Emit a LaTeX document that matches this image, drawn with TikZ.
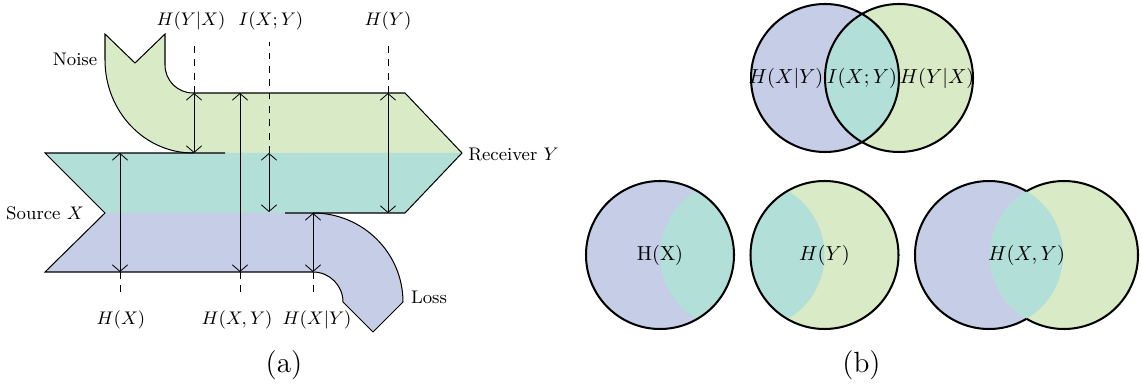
\documentclass[tikz,border=0pt]{standalone}
\usetikzlibrary{arrows.meta}
\definecolor{cblue}{RGB}{198,205,230}
\definecolor{cgreen}{RGB}{216,234,198}
\definecolor{cteal}{RGB}{178,223,216}
\begin{document}
\begin{tikzpicture}[x=0.4926pt,y=-0.4926pt,
  outl/.style={line width=0.5pt, line join=miter},
  meas/.style={line width=0.4pt, {Straight Barb[length=3.3pt,width=7.6pt]}-{Straight Barb[length=3.3pt,width=7.6pt]}},
  guide/.style={line width=0.4pt, dash pattern=on 3.3pt off 3.3pt},
  lbl/.style={font=\small, inner sep=0pt},
  vlbl/.style={inner sep=0pt},
  sublbl/.style={font=\Large, inner sep=0pt},
  ring/.style={line width=1pt}]
\useasboundingbox (0,0) rectangle (1142,386);

% ---------- (a) flow diagram ----------
\fill[cgreen] (105,34) -- (135,63) -- (165,34) -- (165,65) .. controls (165,80.5) and (177.5,93) .. (193,93)
  -- (405,93) -- (462,153) -- (193,153) .. controls (144.4,153) and (105,111.4) .. (105,60) -- cycle;
\fill[cteal] (45,153) -- (462,153) -- (405,213) -- (105,213) -- cycle;
\fill[cblue] (105,213) -- (313,213) .. controls (362.7,213) and (403,252.9) .. (403,302) -- (373,332) -- (343,302)
  .. controls (343,285.5) and (329.5,272) .. (313,272) -- (45,272) -- cycle;

\draw[outl] (285,213) -- (405,213) -- (462,153) -- (405,93) -- (193,93)
  .. controls (177.5,93) and (165,80.5) .. (165,65) -- (165,34) -- (135,63) -- (105,34) -- (105,60)
  .. controls (105,111.4) and (144.4,153) .. (193,153);
\draw[outl] (225,153) -- (45,153) -- (105,213) -- (45,272) -- (313,272)
  .. controls (329.5,272) and (343,285.5) .. (343,302) -- (373,332) -- (403,302)
  .. controls (403,252.9) and (362.7,213) .. (313,213);

% measurement coordinates
\coordinate (hxT) at (120,153); \coordinate (hxB) at (120,272); \coordinate (hxD) at (120,298);
\coordinate (hyxT) at (194,93); \coordinate (hyxB) at (194,153); \coordinate (hyxD) at (194,42);
\coordinate (hxyT) at (240,93); \coordinate (hxyB) at (240,272); \coordinate (hxyD) at (240,298);
\coordinate (ixyT) at (269,153); \coordinate (ixyB) at (269,212); \coordinate (ixyD) at (269,42);
\coordinate (hxgyT) at (313,213); \coordinate (hxgyB) at (313,272); \coordinate (hxgyD) at (313,298);
\coordinate (hyT) at (388,93); \coordinate (hyB) at (388,213); \coordinate (hyD) at (388,42);

\draw[meas] (hxT) -- (hxB);
\draw[meas] (hyxT) -- (hyxB);
\draw[meas] (hxyT) -- (hxyB);
\draw[meas] (ixyT) -- (ixyB);
\draw[meas] (hxgyT) -- (hxgyB);
\draw[meas] (hyT) -- (hyB);

\draw[guide] (hxB) -- (hxD);
\draw[guide] (hxyB) -- (hxyD);
\draw[guide] (hxgyB) -- (hxgyD);
\draw[guide] (hyxT) -- (hyxD);
\draw[guide] (ixyT) -- (ixyD);
\draw[guide] (hyT) -- (hyD);

\node[lbl] (lHX) at (121,320) {$H(X)$};
\node[lbl] (lHXY) at (237,320) {$H(X,Y)$};
\node[lbl] (lHXgY) at (317,320) {$H(X|Y)$};
\node[lbl] (lHYgX) at (191,21) {$H(Y|X)$};
\node[lbl] (lIXY) at (271,21) {$I(X;Y)$};
\node[lbl] (lHY) at (388,21) {$H(Y)$};

\node[lbl] (noise) at (75,59) {Noise};
\node[lbl] (recv) at (513.5,154) {Receiver $Y$};
\node[lbl] (src) at (45,213) {Source $X$};
\node[lbl] (loss) at (429,297) {Loss};

\node[sublbl] (capa) at (284,365) {(a)};

% ---------- (b) Venn diagrams ----------
% top pair
\fill[cblue] (825,78) circle[radius=74];
\fill[cgreen] (899,78) circle[radius=74];
\begin{scope}
  \clip (825,78) circle[radius=74];
  \fill[cteal] (899,78) circle[radius=74];
\end{scope}
\draw[ring] (825,78) circle[radius=74];
\draw[ring] (899,78) circle[radius=74];
\node[vlbl] (vHXgY) at (786,78) {$H(X|Y)$};
\node[vlbl] (vIXY) at (862,78) {$I(X;Y)$};
\node[vlbl] (vHYgX) at (937,78) {$H(Y|X)$};

% H(X)
\fill[cblue] (660,255) circle[radius=74];
\begin{scope}
  \clip (660,255) circle[radius=74];
  \fill[cteal] (734,255) circle[radius=74];
\end{scope}
\draw[ring] (660,255) circle[radius=74];
\node[vlbl] (vHX) at (660,255) {H(X)};

% H(Y)
\fill[cgreen] (824.5,255) circle[radius=74];
\begin{scope}
  \clip (824.5,255) circle[radius=74];
  \fill[cteal] (750.5,255) circle[radius=74];
\end{scope}
\draw[ring] (824.5,255) circle[radius=74];
\node[vlbl] (vHY) at (824.5,255) {$H(Y)$};

% H(X,Y)
\fill[cblue] (989,255) circle[radius=74];
\fill[cgreen] (1064,255) circle[radius=74];
\begin{scope}
  \clip (989,255) circle[radius=74];
  \fill[cteal] (1064,255) circle[radius=74];
\end{scope}
\draw[ring] (989,255) ++(59.6:74) arc[start angle=59.6, end angle=300.4, radius=74];
\draw[ring] (1064,255) ++(120.4:74) arc[start angle=120.4, end angle=-120.4, radius=74];
\node[vlbl] (vHXY) at (1026.5,255) {$H(X,Y)$};

\node[sublbl] (capb) at (861.5,365) {(b)};
\end{tikzpicture}
\end{document}
